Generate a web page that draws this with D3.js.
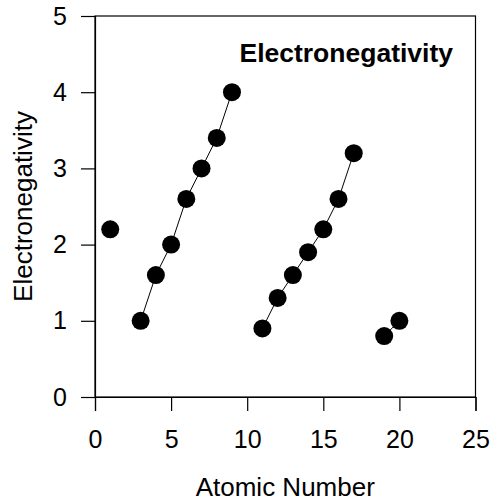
<!DOCTYPE html>
<html><head><meta charset="utf-8">
<script src="https://cdn.jsdelivr.net/npm/d3@7"></script>
<style>
html,body{margin:0;padding:0;background:#fff;}
text{font-family:"Liberation Sans",Arial,sans-serif;fill:#000;}
</style></head>
<body><svg id="c" width="490" height="503"></svg>
<script>
const hydrogenZ = [1];
const hydrogenEN = [2.2];
const period2Z = [3, 4, 5, 6, 7, 8, 9];
const period2EN = [1.0, 1.6, 2.0, 2.6, 3.0, 3.4, 4.0];
const period3Z = [11, 12, 13, 14, 15, 16, 17];
const period3EN = [0.9, 1.3, 1.6, 1.9, 2.2, 2.6, 3.2];
const period4Z = [19, 20];
const period4EN = [0.8, 1.0];
const xTicks = [0, 5, 10, 15, 20, 25];
const yTicks = [0, 1, 2, 3, 4, 5];
const chartTitle = "Electronegativity";
const xTitle = "Atomic Number";
const yTitle = "Electronegativity";

const svg = d3.select("#c");
const L = 95, R = 475.5, T = 16, B = 397;
const x = d3.scaleLinear().domain([0, 25]).range([L, R]);
const y = d3.scaleLinear().domain([0, 5]).range([B, T]);

// frame
svg.append("rect").attr("x", L).attr("y", T).attr("width", R - L).attr("height", B - T)
  .attr("fill", "none").attr("stroke", "#000").attr("stroke-width", 1.2);

const xAxis = svg.append("g").attr("transform", `translate(0,${B})`)
  .call(d3.axisBottom(x).tickValues(xTicks).tickSize(14).tickPadding(19).tickFormat(d3.format("d")));
const yAxis = svg.append("g").attr("transform", `translate(${L},0)`)
  .call(d3.axisLeft(y).tickValues(yTicks).tickSize(14).tickPadding(14).tickFormat(d3.format("d")));
[xAxis, yAxis].forEach(a => {
  a.select(".domain").attr("stroke", "#000").attr("stroke-width", 1.2);
  a.selectAll(".tick line").attr("stroke", "#000").attr("stroke-width", 1.2);
  a.selectAll(".tick text").attr("font-size", 25).attr("font-family", "Liberation Sans, Arial, sans-serif").attr("fill", "#000");
});

const groups = [
  [hydrogenZ, hydrogenEN],
  [period2Z, period2EN],
  [period3Z, period3EN],
  [period4Z, period4EN]
].map(([zs, es]) => zs.map((z, i) => ({z, e: es[i]})));

const line = d3.line().x(d => x(d.z)).y(d => y(d.e));
groups.forEach(g => {
  if (g.length > 1) svg.append("path").attr("d", line(g)).attr("fill", "none").attr("stroke", "#000").attr("stroke-width", 1);
});
groups.forEach(g => {
  svg.selectAll(null).data(g).enter().append("circle")
    .attr("cx", d => x(d.z)).attr("cy", d => y(d.e)).attr("r", 9).attr("fill", "#000");
});

svg.append("text").attr("x", 453).attr("y", 62).attr("text-anchor", "end")
  .attr("font-size", 26.5).attr("font-weight", "bold").text(chartTitle);
svg.append("text").attr("x", (L + R) / 2).attr("y", 496).attr("text-anchor", "middle")
  .attr("font-size", 26).text(xTitle);
svg.append("text").attr("transform", `translate(32,${(T + B) / 2}) rotate(-90)`).attr("text-anchor", "middle")
  .attr("font-size", 26).text(yTitle);
</script></body></html>
